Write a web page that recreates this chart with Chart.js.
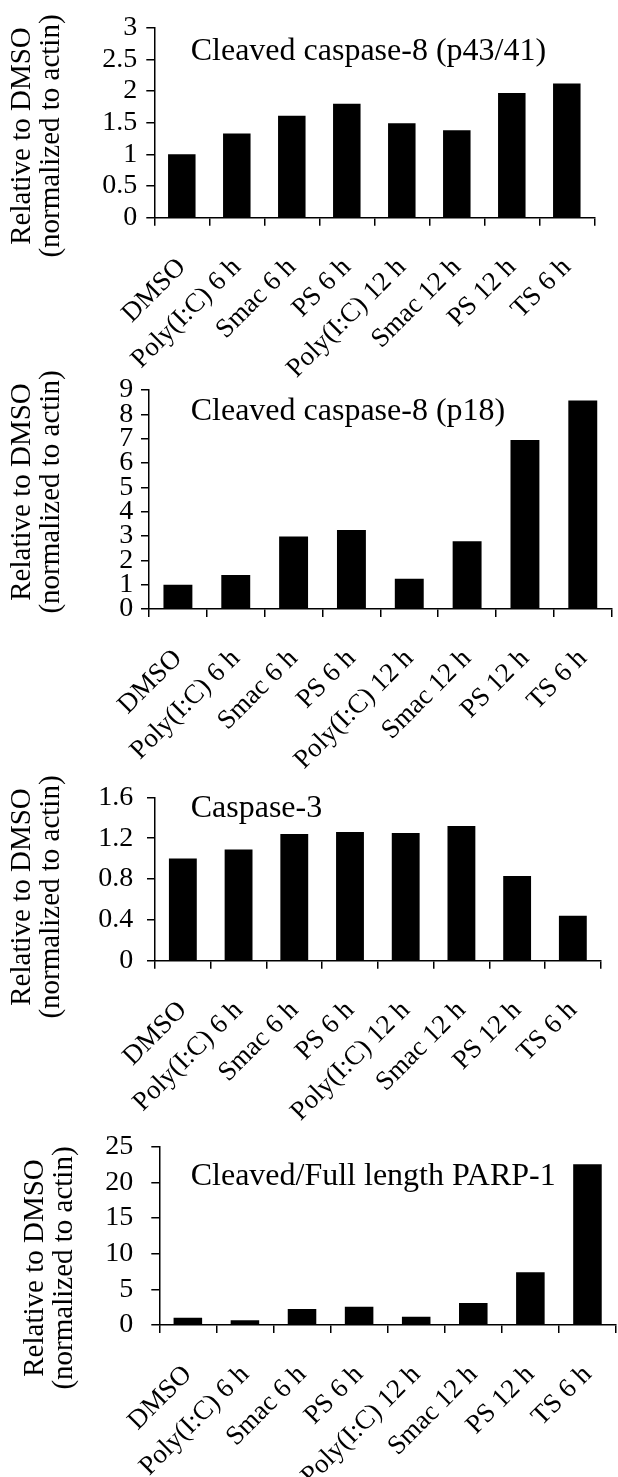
<!DOCTYPE html>
<html>
<head>
<meta charset="utf-8">
<script src="https://cdn.jsdelivr.net/npm/chart.js@4.4.1/dist/chart.umd.min.js"></script>
<style>
  html, body { margin: 0; padding: 0; background: #fff; }
  body { width: 618px; height: 1477px; position: relative; overflow: hidden; }
  canvas { position: absolute; left: 0; }
</style>
</head>
<body>
<canvas id="c1" width="618" height="420" style="top:0px"></canvas>
<canvas id="c2" width="618" height="420" style="top:370px"></canvas>
<canvas id="c3" width="618" height="420" style="top:740px"></canvas>
<canvas id="c4" width="618" height="367" style="top:1110px"></canvas>
<script>
// ---- data ----
const categories = ["DMSO", "Poly(I:C) 6 h", "Smac 6 h", "PS 6 h", "Poly(I:C) 12 h", "Smac 12 h", "PS 12 h", "TS 6 h"];

const caspase8p43Values = [1.00, 1.33, 1.61, 1.80, 1.49, 1.38, 1.97, 2.12];
const caspase8p18Values = [1.00, 1.40, 2.98, 3.25, 1.24, 2.78, 6.95, 8.57];
const caspase3Values    = [1.00, 1.09, 1.24, 1.26, 1.25, 1.32, 0.83, 0.44];
const parp1Values       = [1.03, 0.65, 2.25, 2.57, 1.15, 3.08, 7.38, 22.55];

const caspase8p43Ticks = [0, 0.5, 1, 1.5, 2, 2.5, 3];
const caspase8p43TickLabels = ["0", "0.5", "1", "1.5", "2", "2.5", "3"];
const caspase8p18Ticks = [0, 1, 2, 3, 4, 5, 6, 7, 8, 9];
const caspase8p18TickLabels = ["0", "1", "2", "3", "4", "5", "6", "7", "8", "9"];
const caspase3Ticks = [0, 0.4, 0.8, 1.2, 1.6];
const caspase3TickLabels = ["0", "0.4", "0.8", "1.2", "1.6"];
const parp1Ticks = [0, 5, 10, 15, 20, 25];
const parp1TickLabels = ["0", "5", "10", "15", "20", "25"];

const panelTitles = ["Cleaved caspase-8 (p43/41)", "Cleaved caspase-8 (p18)", "Caspase-3", "Cleaved/Full length PARP-1"];
const yTitleLines = ["Relative to DMSO", "(normalized to actin)"];

// ---- layout (positions / styles only) ----
const FONT = '"Liberation Serif", "Times New Roman", Times, serif';
const panels = [
  { id: "c1", values: caspase8p43Values, ticks: caspase8p43Ticks, labels: caspase8p43TickLabels, title: panelTitles[0],
    top: 27.7, bottom: 217.7, left: 154.3, right: 594.3, titleX: 190.7, titleY: 60, yTitleCY: 136, yT1: 22.5, yT2: 51.5, tickPad: 9 },
  { id: "c2", values: caspase8p18Values, ticks: caspase8p18Ticks, labels: caspase8p18TickLabels, title: panelTitles[1],
    top: 20, bottom: 239, left: 149, right: 611.7, titleX: 190.7, titleY: 50, yTitleCY: 122, yT1: 22.5, yT2: 51.5, tickPad: 7.7 },
  { id: "c3", values: caspase3Values, ticks: caspase3Ticks, labels: caspase3TickLabels, title: panelTitles[2],
    top: 57.3, bottom: 220.7, left: 155, right: 600.7, titleX: 190.7, titleY: 76.7, yTitleCY: 157, yT1: 22.5, yT2: 51.5, tickPad: 13.7 },
  { id: "c4", values: parp1Values, ticks: parp1Ticks, labels: parp1TickLabels, title: panelTitles[3],
    top: 36.7, bottom: 215, left: 159.3, right: 616, titleX: 190.7, titleY: 75, yTitleCY: 158, yT1: 35, yT2: 64, tickPad: 18 }
];

const textPlugin = {
  id: "panelText",
  afterDraw(chart) {
    const p = chart.options.plugins.panelText;
    const ctx = chart.ctx;
    ctx.save();
    ctx.fillStyle = "#000";
    ctx.font = "32px " + FONT;
    ctx.textAlign = "left";
    ctx.textBaseline = "alphabetic";
    ctx.fillText(p.title, p.titleX, p.titleY);
    ctx.font = "29px " + FONT;
    ctx.textAlign = "center";
    ctx.textBaseline = "middle";
    [[yTitleLines[0], p.yT1], [yTitleLines[1], p.yT2]].forEach(([t, x]) => {
      ctx.save();
      ctx.translate(x, p.yTitleCY);
      ctx.rotate(-Math.PI / 2);
      ctx.fillText(t, 0, 0);
      ctx.restore();
    });
    ctx.restore();
  }
};

panels.forEach(p => {
  const cv = document.getElementById(p.id);
  const H = cv.height;
  new Chart(cv, {
    type: "bar",
    data: {
      labels: categories,
      datasets: [{ data: p.values, backgroundColor: "#000", borderWidth: 0, barPercentage: 0.5, categoryPercentage: 1.0 }]
    },
    options: {
      responsive: false,
      animation: false,
      devicePixelRatio: 1,
      layout: { padding: { top: p.top, right: 618 - p.right, bottom: 0, left: 0 } },
      plugins: {
        legend: { display: false },
        tooltip: { enabled: false },
        panelText: p
      },
      scales: {
        x: {
          grid: { display: true, drawOnChartArea: false, drawTicks: true, tickLength: 8, color: "#000", lineWidth: 1.5, offset: true },
          border: { display: true, color: "#000", width: 1.5 },
          ticks: { color: "#000", font: { family: FONT, size: 27 }, maxRotation: 45, minRotation: 45, autoSkip: false, padding: 26 },
          afterFit(scale) { scale.height = H - p.bottom; scale.paddingLeft = 0; scale.paddingRight = 0; }
        },
        y: {
          min: p.ticks[0],
          max: p.ticks[p.ticks.length - 1],
          afterBuildTicks(scale) { scale.ticks = p.ticks.map(v => ({ value: v })); },
          grid: { display: true, drawOnChartArea: false, drawTicks: true, tickLength: 8, color: "#000", lineWidth: 1.5 },
          border: { display: true, color: "#000", width: 1.5 },
          ticks: { color: "#000", font: { family: FONT, size: 28 }, padding: p.tickPad, autoSkip: false,
                   callback: (v, i) => p.labels[i] },
          afterFit(scale) { scale.width = p.left; scale.paddingTop = 0; scale.paddingBottom = 0; }
        }
      }
    },
    plugins: [textPlugin]
  });
});
</script>
</body>
</html>
